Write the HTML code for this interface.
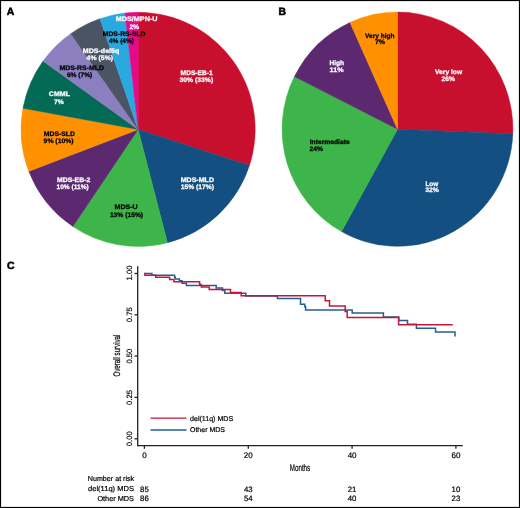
<!DOCTYPE html>
<html><head><meta charset="utf-8"><style>
html,body{margin:0;padding:0;background:#fff;}
svg{display:block;will-change:transform;text-rendering:geometricPrecision;}
</style></head><body>
<svg width="520" height="508" viewBox="0 0 520 508">
<rect x="0" y="0" width="520" height="508" fill="#fff"/>
<rect x="0.5" y="0.5" width="519" height="507" fill="none" stroke="#000" stroke-width="1.2"/>
<g font-family="Liberation Sans, sans-serif" font-weight="bold" font-size="10.4" stroke="#000" stroke-width="0.55">
<text x="6.7" y="14.5">A</text>
<text x="278.4" y="14.8">B</text>
<text x="6.9" y="269.2">C</text>
</g>
<path d="M138.10,129.40 L138.10,12.35 A117.05,117.05 0 0 1 249.42,165.57 Z" fill="#C8102E" stroke="#C8102E" stroke-width="0.5" stroke-linejoin="round"/>
<path d="M138.10,129.40 L249.42,165.57 A117.05,117.05 0 0 1 167.41,242.72 Z" fill="#134F80" stroke="#134F80" stroke-width="0.5" stroke-linejoin="round"/>
<path d="M138.10,129.40 L167.41,242.72 A117.05,117.05 0 0 1 72.90,226.61 Z" fill="#3DB54A" stroke="#3DB54A" stroke-width="0.5" stroke-linejoin="round"/>
<path d="M138.10,129.40 L72.90,226.61 A117.05,117.05 0 0 1 28.82,171.35 Z" fill="#5C2870" stroke="#5C2870" stroke-width="0.5" stroke-linejoin="round"/>
<path d="M138.10,129.40 L28.82,171.35 A117.05,117.05 0 0 1 22.99,108.17 Z" fill="#FF9000" stroke="#FF9000" stroke-width="0.5" stroke-linejoin="round"/>
<path d="M138.10,129.40 L22.99,108.17 A117.05,117.05 0 0 1 43.05,61.10 Z" fill="#036A55" stroke="#036A55" stroke-width="0.5" stroke-linejoin="round"/>
<path d="M138.10,129.40 L43.05,61.10 A117.05,117.05 0 0 1 70.80,33.64 Z" fill="#8B7FBF" stroke="#8B7FBF" stroke-width="0.5" stroke-linejoin="round"/>
<path d="M138.10,129.40 L70.80,33.64 A117.05,117.05 0 0 1 99.99,18.73 Z" fill="#4A5463" stroke="#4A5463" stroke-width="0.5" stroke-linejoin="round"/>
<path d="M138.10,129.40 L99.99,18.73 A117.05,117.05 0 0 1 125.05,13.08 Z" fill="#2AA9E0" stroke="#2AA9E0" stroke-width="0.5" stroke-linejoin="round"/>
<path d="M138.10,129.40 L125.05,13.08 A117.05,117.05 0 0 1 138.10,12.35 Z" fill="#E8088A" stroke="#E8088A" stroke-width="0.5" stroke-linejoin="round"/>
<path d="M397.50,129.15 L397.50,12.05 A115.40,117.10 0 0 1 512.81,133.79 Z" fill="#C8102E" stroke="#C8102E" stroke-width="0.5" stroke-linejoin="round"/>
<path d="M397.50,129.15 L512.81,133.79 A115.40,117.10 0 0 1 341.55,231.57 Z" fill="#134F80" stroke="#134F80" stroke-width="0.5" stroke-linejoin="round"/>
<path d="M397.50,129.15 L341.55,231.57 A115.40,117.10 0 0 1 294.40,76.53 Z" fill="#3DB54A" stroke="#3DB54A" stroke-width="0.5" stroke-linejoin="round"/>
<path d="M397.50,129.15 L294.40,76.53 A115.40,117.10 0 0 1 350.01,22.42 Z" fill="#5C2870" stroke="#5C2870" stroke-width="0.5" stroke-linejoin="round"/>
<path d="M397.50,129.15 L350.01,22.42 A115.40,117.10 0 0 1 397.50,12.05 Z" fill="#FF9000" stroke="#FF9000" stroke-width="0.5" stroke-linejoin="round"/>
<g font-family="Liberation Sans, sans-serif" font-weight="bold" font-size="6.6" stroke-width="0.25">
<text x="115.70" y="20.80" fill="#fff" stroke="#fff" textLength="41.90" lengthAdjust="spacingAndGlyphs">MDS/MPN-U</text>
<text x="129.40" y="28.60" fill="#fff" stroke="#fff" textLength="9.70" lengthAdjust="spacingAndGlyphs">2%</text>
<text x="102.80" y="36.20" fill="#000" stroke="#000" textLength="42.70" lengthAdjust="spacingAndGlyphs">MDS-RS-SLD</text>
<text x="108.90" y="43.00" fill="#000" stroke="#000" textLength="25.10" lengthAdjust="spacingAndGlyphs">4% (4%)</text>
<text x="82.80" y="52.90" fill="#fff" stroke="#fff" textLength="36.50" lengthAdjust="spacingAndGlyphs">MDS-del5q</text>
<text x="86.60" y="59.70" fill="#fff" stroke="#fff" textLength="26.50" lengthAdjust="spacingAndGlyphs">4% (5%)</text>
<text x="59.40" y="70.10" fill="#000" stroke="#000" textLength="44.70" lengthAdjust="spacingAndGlyphs">MDS-RS-MLD</text>
<text x="66.90" y="77.20" fill="#000" stroke="#000" textLength="25.40" lengthAdjust="spacingAndGlyphs">6% (7%)</text>
<text x="48.80" y="96.20" fill="#fff" stroke="#fff" textLength="21.20" lengthAdjust="spacingAndGlyphs">CMML</text>
<text x="53.90" y="103.50" fill="#fff" stroke="#fff" textLength="9.80" lengthAdjust="spacingAndGlyphs">7%</text>
<text x="43.80" y="136.20" fill="#000" stroke="#000" textLength="31.20" lengthAdjust="spacingAndGlyphs">MDS-SLD</text>
<text x="43.60" y="143.40" fill="#000" stroke="#000" textLength="30.00" lengthAdjust="spacingAndGlyphs">9% (10%)</text>
<text x="56.90" y="181.80" fill="#fff" stroke="#fff" textLength="33.50" lengthAdjust="spacingAndGlyphs">MDS-EB-2</text>
<text x="56.50" y="189.20" fill="#fff" stroke="#fff" textLength="32.30" lengthAdjust="spacingAndGlyphs">10% (11%)</text>
<text x="114.60" y="209.10" fill="#000" stroke="#000" textLength="23.10" lengthAdjust="spacingAndGlyphs">MDS-U</text>
<text x="109.90" y="216.90" fill="#000" stroke="#000" textLength="33.20" lengthAdjust="spacingAndGlyphs">13% (15%)</text>
<text x="180.70" y="181.80" fill="#fff" stroke="#fff" textLength="33.30" lengthAdjust="spacingAndGlyphs">MDS-MLD</text>
<text x="180.70" y="189.20" fill="#fff" stroke="#fff" textLength="33.30" lengthAdjust="spacingAndGlyphs">15% (17%)</text>
<text x="180.60" y="74.70" fill="#fff" stroke="#fff" textLength="32.10" lengthAdjust="spacingAndGlyphs">MDS-EB-1</text>
<text x="179.50" y="82.00" fill="#fff" stroke="#fff" textLength="33.70" lengthAdjust="spacingAndGlyphs">30% (33%)</text>
<text x="435.00" y="74.20" fill="#fff" stroke="#fff" textLength="27.10" lengthAdjust="spacingAndGlyphs">Very low</text>
<text x="441.40" y="80.80" fill="#fff" stroke="#fff" textLength="13.60" lengthAdjust="spacingAndGlyphs">26%</text>
<text x="425.40" y="185.80" fill="#fff" stroke="#fff" textLength="12.80" lengthAdjust="spacingAndGlyphs">Low</text>
<text x="425.20" y="192.30" fill="#fff" stroke="#fff" textLength="13.70" lengthAdjust="spacingAndGlyphs">32%</text>
<text x="309.70" y="144.00" fill="#000" stroke="#000" textLength="40.00" lengthAdjust="spacingAndGlyphs">Intermediate</text>
<text x="309.50" y="150.60" fill="#000" stroke="#000" textLength="13.60" lengthAdjust="spacingAndGlyphs">24%</text>
<text x="329.40" y="65.10" fill="#fff" stroke="#fff" textLength="14.70" lengthAdjust="spacingAndGlyphs">High</text>
<text x="329.60" y="71.80" fill="#fff" stroke="#fff" textLength="13.90" lengthAdjust="spacingAndGlyphs">11%</text>
<text x="365.10" y="37.80" fill="#000" stroke="#000" textLength="29.40" lengthAdjust="spacingAndGlyphs">Very high</text>
<text x="374.90" y="44.40" fill="#000" stroke="#000" textLength="10.20" lengthAdjust="spacingAndGlyphs">7%</text>
</g>
<g font-family="Liberation Sans, sans-serif" fill="#000" stroke="#000" stroke-width="0.2">
<text transform="translate(131.6,273.00) rotate(-90)" text-anchor="middle" font-size="7.7">1.00</text>
<text transform="translate(131.6,314.80) rotate(-90)" text-anchor="middle" font-size="7.7">0.75</text>
<text transform="translate(131.6,356.10) rotate(-90)" text-anchor="middle" font-size="7.7">0.50</text>
<text transform="translate(131.6,397.40) rotate(-90)" text-anchor="middle" font-size="7.7">0.25</text>
<text transform="translate(131.6,438.80) rotate(-90)" text-anchor="middle" font-size="7.7">0.00</text>
<text x="144.40" y="457.6" text-anchor="middle" font-size="8">0</text>
<text x="248.30" y="457.6" text-anchor="middle" font-size="8">20</text>
<text x="352.10" y="457.6" text-anchor="middle" font-size="8">40</text>
<text x="455.90" y="457.6" text-anchor="middle" font-size="8">60</text>
<text transform="translate(119.8,355.6) rotate(-90)" text-anchor="middle" font-size="9.6" textLength="41.8" lengthAdjust="spacingAndGlyphs">Overall survival</text>
<text x="300" y="470.8" text-anchor="middle" font-size="9.6" textLength="20.4" lengthAdjust="spacingAndGlyphs">Months</text>
<g font-size="7.0">
<text x="190.0" y="420.8" textLength="43.2" lengthAdjust="spacingAndGlyphs">del(11q) MDS</text>
<text x="190.0" y="432.3" textLength="34.9" lengthAdjust="spacingAndGlyphs">Other MDS</text>
</g>
<g font-size="7.2">
<text x="134.2" y="480.7" text-anchor="end" textLength="46.4" lengthAdjust="spacingAndGlyphs">Number at risk</text>
<text x="134.0" y="491.3" text-anchor="end" textLength="46.0" lengthAdjust="spacingAndGlyphs">del(11q) MDS</text>
<text x="134.0" y="500.6" text-anchor="end" textLength="36.6" lengthAdjust="spacingAndGlyphs">Other MDS</text>
<text x="144.40" y="491.5" text-anchor="middle" font-size="7.8">85</text>
<text x="144.40" y="500.9" text-anchor="middle" font-size="7.8">86</text>
<text x="248.30" y="491.5" text-anchor="middle" font-size="7.8">43</text>
<text x="248.30" y="500.9" text-anchor="middle" font-size="7.8">54</text>
<text x="352.10" y="491.5" text-anchor="middle" font-size="7.8">21</text>
<text x="352.10" y="500.9" text-anchor="middle" font-size="7.8">40</text>
<text x="455.90" y="491.5" text-anchor="middle" font-size="7.8">10</text>
<text x="455.90" y="500.9" text-anchor="middle" font-size="7.8">23</text>
</g>
</g>
<g stroke="#222" stroke-width="1.3" fill="none">
<line x1="137.7" y1="266.3" x2="137.7" y2="446.3"/>
<line x1="137.05" y1="445.7" x2="462.8" y2="445.7"/>
<line x1="134.5" y1="273.50" x2="137.7" y2="273.50"/>
<line x1="134.5" y1="314.80" x2="137.7" y2="314.80"/>
<line x1="134.5" y1="356.10" x2="137.7" y2="356.10"/>
<line x1="134.5" y1="397.40" x2="137.7" y2="397.40"/>
<line x1="134.5" y1="438.80" x2="137.7" y2="438.80"/>
<line x1="144.40" y1="445.7" x2="144.40" y2="448.8"/>
<line x1="248.30" y1="445.7" x2="248.30" y2="448.8"/>
<line x1="352.10" y1="445.7" x2="352.10" y2="448.8"/>
<line x1="455.90" y1="445.7" x2="455.90" y2="448.8"/>
</g>
<g fill="none" stroke-width="1.5" stroke-linejoin="miter" stroke-linecap="butt">
<polyline points="144.40,273.40 151.90,273.40 151.90,275.30 174.60,275.30 174.60,277.20 175.30,277.20 175.30,278.90 179.40,278.90 179.40,280.80 182.10,280.80 182.10,283.20 186.40,283.20 186.40,285.60 216.20,285.60 216.20,288.00 222.50,288.00 222.50,290.40 224.80,290.40 224.80,293.20 245.80,293.20 245.80,296.10 277.40,296.10 277.40,298.60 300.50,298.60 300.50,304.30 304.80,304.30 304.80,306.70 305.60,306.70 305.60,310.00 352.20,310.00 352.20,313.00 383.40,313.00 383.40,317.00 398.80,317.00 398.80,320.50 407.50,320.50 407.50,324.20 416.40,324.20 416.40,328.20 435.50,328.20 435.50,332.10 455.00,332.10 455.00,336.50" stroke="#245F94"/>
<polyline points="144.40,273.40 144.90,273.40 144.90,275.30 155.70,275.30 155.70,277.30 169.60,277.30 169.60,279.50 173.90,279.50 173.90,281.70 199.60,281.70 199.60,284.40 201.30,284.40 201.30,286.90 209.20,286.90 209.20,289.50 230.50,289.50 230.50,292.50 241.20,292.50 241.20,295.70 325.20,295.70 325.20,300.70 329.50,300.70 329.50,306.10 345.20,306.10 345.20,311.40 347.20,311.40 347.20,317.50 398.60,317.50 398.60,324.80 452.70,324.80" stroke="#C8143A"/>
<line x1="150.5" y1="418.1" x2="186.5" y2="418.1" stroke="#C8143A" stroke-width="1.35"/>
<line x1="150.5" y1="430.0" x2="186.5" y2="430.0" stroke="#245F94" stroke-width="1.35"/>
</g>
</svg>
</body></html>
